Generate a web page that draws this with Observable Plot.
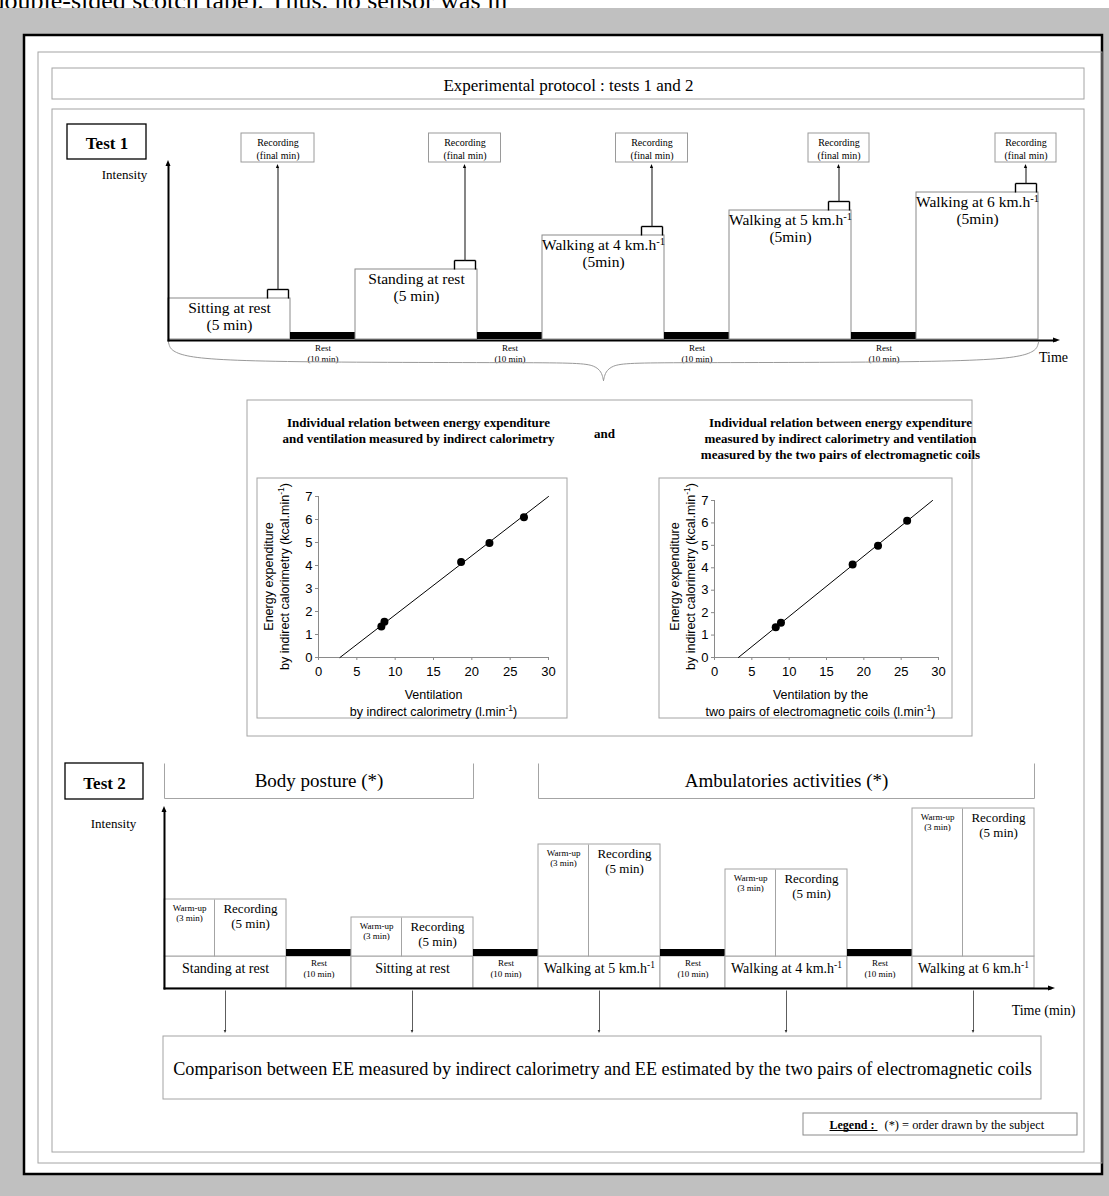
<!DOCTYPE html>
<html><head><meta charset="utf-8">
<script src="https://cdn.jsdelivr.net/npm/d3@7"></script>
<script src="https://cdn.jsdelivr.net/npm/@observablehq/plot@0.6"></script>
<style>
html,body{margin:0;padding:0;overflow:hidden;background:#fff;}
#wrap{position:relative;width:1109px;height:1196px;overflow:hidden;}
#wrap svg{position:absolute;max-width:none;}
</style></head><body><div id="wrap"></div>
<script>
// ---------------- DATA ----------------
const headLine = "double-sided scotch tape). Thus, no sensor was in";
const protocolTitle = "Experimental protocol : tests 1 and 2";
const testLabels = ["Test 1", "Test 2"];
const intensityLabel = "Intensity";
const test1Labels = ["Sitting at rest\n(5 min)", "Standing at rest\n(5 min)", "Walking at 4 km.h^{-1}\n(5min)", "Walking at 5 km.h^{-1}\n(5min)", "Walking at 6 km.h^{-1}\n(5min)"];
const test1Intensity = [41, 70, 104, 129, 147];          // schematic intensity (arbitrary units)
const restLabel = "Rest\n(10 min)";
const recordingFinal = "Recording\n(final min)";
const timeLabel1 = "Time";
const timeLabel2 = "Time (min)";
const test2Labels = ["Standing at rest", "Sitting at rest", "Walking at 5 km.h^{-1}", "Walking at 4 km.h^{-1}", "Walking at 6 km.h^{-1}"];
const test2Intensity = [57, 39, 112, 87, 148];           // schematic intensity (arbitrary units)
const warmupLabel = "Warm-up\n(3 min)";
const recordLabel = "Recording\n(5 min)";
const groupLabels = ["Body posture (*)", "Ambulatories activities (*)"];
const relTitle1 = "Individual relation between energy expenditure\nand ventilation measured by indirect calorimetry";
const relAnd = "and";
const relTitle2 = "Individual relation between energy expenditure\nmeasured by indirect calorimetry and ventilation\nmeasured by the two pairs of electromagnetic coils";
const yLabelLines = ["Energy expenditure", "by indirect calorimetry (kcal.min^{-1})"];
const xLabel1Lines = ["Ventilation", "by indirect calorimetry (l.min^{-1})"];
const xLabel2Lines = ["Ventilation by the", "two pairs of electromagnetic coils (l.min^{-1})"];
const comparisonText = "Comparison between EE measured by indirect calorimetry and EE estimated by the two pairs of electromagnetic coils";
const legendKey = "Legend :";
const legendText = "(*) = order drawn by the subject";
// scatter data
const vent1 = [8.2, 8.6, 18.6, 22.3, 26.8];
const ee1 = [1.35, 1.55, 4.15, 4.98, 6.1];
const fit1Vent = [2.8, 30];
const fit1EE = [0, 7];
const vent2 = [8.2, 8.9, 18.5, 21.9, 25.8];
const ee2 = [1.35, 1.55, 4.15, 4.98, 6.1];
const fit2Vent = [3.2, 29.2];
const fit2EE = [0, 7];
const ventTicks = [0, 5, 10, 15, 20, 25, 30];
const eeTicks = [0, 1, 2, 3, 4, 5, 6, 7];

// ---------------- LAYOUT ----------------
const W = 1109, H = 1196;
const SERIF = "'Liberation Serif', 'Times New Roman', serif";
const SANS = "'Liberation Sans', Arial, sans-serif";
const G = "#a4a4a4";
const L = {
  grayTop: 8,
  outer: [24, 35, 1102, 1174],
  inner: [38, 52, 1102, 1163],
  titleBox: [52, 68, 1084, 99],
  section: [52, 109, 1084, 1152],
  t1: {x0: 168, base: 339, act: 122, rest: 65, restH: 7, axisTop: 160, axisEnd: 1060,
       label: [67, 124, 146, 159], intensity: [124, 174], recY: [133, 162], recW: [73, 72, 72, 61, 61],
       brW: 21, brH: 9, time: [1053, 356]},
  sc: {box: [247, 400, 972, 736], titleL: [418, 429], and: [604, 433], titleR: [840, 437],
       p1: {box: [257, 478, 567, 718], m: [18, 19, 61, 61], ylab: [268, 284], xlab: 433},
       p2: {box: [659, 478, 952, 718], m: [22, 14, 61, 55], ylab: [674, 690], xlab: 820},
       ylabY: 576, xlabY: [694, 711]},
  t2: {x0: 164, rowTop: 956, base: 988, act: 122, rest: 65, restH: 7, warm: 50, axisTop: 806, axisEnd: 1055,
       label: [65, 763, 143, 799], groupY: [763, 798], intensity: [113, 823], time: [1043, 1009], arrowEnd: 1033},
  comp: [163, 1036, 1041, 1099],
  legend: [803, 1113, 1077, 1135]
};

// ---------------- HELPERS ----------------
const marks = [];
const box = (b, o = {}) => marks.push(Plot.rect([{x1: b[0], y1: b[1], x2: b[2], y2: b[3]}],
  {x1: "x1", x2: "x2", y1: "y1", y2: "y2", fill: o.fill ?? "none", stroke: o.stroke ?? "none", strokeWidth: o.sw ?? 1}));
const seg = (x1, y1, x2, y2, o = {}) => marks.push(Plot.link([{x1, y1, x2, y2}],
  {x1: "x1", y1: "y1", x2: "x2", y2: "y2", stroke: o.stroke ?? "#000", strokeWidth: o.sw ?? 1}));
const txt = (x, y, t, o = {}) => marks.push(Plot.text([{x, y, t}], {x: "x", y: "y", text: "t",
  fontSize: o.size ?? 12, fontWeight: o.weight ?? "normal", fontFamily: o.font ?? SERIF,
  textAnchor: o.anchor ?? "middle", lineAnchor: o.la ?? "middle", lineHeight: o.lh ?? 1.15,
  fill: o.fill ?? "#000", rotate: o.rotate ?? 0}));
const head = (x, y, dir, len, half, fill = "#000") => {
  if (dir === "right") marks.push(Plot.areaY([{x: x - len, a: y - half, b: y + half}, {x, a: y, b: y}], {x: "x", y1: "a", y2: "b", fill}));
  if (dir === "up") marks.push(Plot.areaX([{y, a: x, b: x}, {y: y + len, a: x - half, b: x + half}], {y: "y", x1: "a", x2: "b", fill}));
  if (dir === "down") marks.push(Plot.areaX([{y: y - len, a: x - half, b: x + half}, {y, a: x, b: x}], {y: "y", x1: "a", x2: "b", fill}));
};
function slots(x0, act, rest, n) {
  const out = []; let x = x0;
  for (let i = 0; i < n; i++) {
    out.push({kind: "act", i, x1: x, x2: x + act}); x += act;
    if (i < n - 1) { out.push({kind: "rest", x1: x, x2: x + rest}); x += rest; }
  }
  return out;
}

// ---------------- FRAME ----------------
txt(-9, 8, headLine, {size: 26, anchor: "start", la: "bottom"});
box([0, L.grayTop, W, H], {fill: "#c0c0c0"});
box(L.outer, {fill: "#fff", stroke: "#000", sw: 2.5});
box(L.inner, {stroke: G});
box(L.titleBox, {stroke: G});
txt((L.titleBox[0] + L.titleBox[2]) / 2, (L.titleBox[1] + L.titleBox[3]) / 2 + 1, protocolTitle, {size: 17});
box(L.section, {stroke: G});

// ---------------- TEST 1 ----------------
{
  const T = L.t1;
  box(T.label, {fill: "#fff", stroke: "#000", sw: 1.3});
  txt((T.label[0] + T.label[2]) / 2, (T.label[1] + T.label[3]) / 2 + 1, testLabels[0], {size: 17, weight: "bold"});
  txt(T.intensity[0], T.intensity[1], intensityLabel, {size: 13});
  const S = slots(T.x0, T.act, T.rest, test1Labels.length);
  S.forEach(s => {
    if (s.kind === "act") {
      const top = T.base - test1Intensity[s.i];
      box([s.x1, top, s.x2, T.base], {fill: "#fff", stroke: "#8a8a8a"});
      txt((s.x1 + s.x2) / 2, top + 3, test1Labels[s.i], {size: 15.5, la: "top", lh: 1.08});
      // bracket for final minute
      const bx2 = s.x2 - 2, bx1 = bx2 - T.brW, by = top - T.brH, ax = (bx1 + bx2) / 2;
      seg(bx1, top, bx1, by, {sw: 1.4}); seg(bx1, by, bx2, by, {sw: 1.4}); seg(bx2, by, bx2, top, {sw: 1.4});
      seg(ax, by, ax, T.recY[1] + 5, {sw: 1.1, stroke: "#222"});
      head(ax, T.recY[1] + 2, "up", 4, 1.6);
      const w = T.recW[s.i];
      box([ax - w / 2, T.recY[0], ax + w / 2, T.recY[1]], {fill: "#fff", stroke: "#9a9a9a"});
      txt(ax, (T.recY[0] + T.recY[1]) / 2, recordingFinal, {size: 10, lh: 1.3});
    } else {
      box([s.x1, T.base - T.restH, s.x2, T.base], {fill: "#000"});
      txt((s.x1 + s.x2) / 2, T.base + 13.5, restLabel, {size: 9, lh: 1.2});
    }
  });
  // axes
  seg(T.x0, T.base + 2, T.x0, T.axisTop + 4, {sw: 2});
  head(T.x0, T.axisTop, "up", 6, 2.5);
  seg(T.x0 - 1, T.base + 1, T.axisEnd - 4, T.base + 1, {sw: 2});
  head(T.axisEnd, T.base + 1, "right", 7, 2.5);
  txt(T.time[0], T.time[1], timeLabel1, {size: 14});
  // brace
  const xL = T.x0, xR = S[S.length - 1].x2, xm = (xL + xR) / 2;
  const half = [[0, 342], [4, 356], [80, 362], [xm - xL - 45, 362], [xm - xL - 4, 363], [xm - xL, 380]];
  marks.push(Plot.line(half.map(([dx, y]) => ({x: xL + dx, y})), {x: "x", y: "y", curve: "basis", stroke: "#999", strokeWidth: 1}));
  marks.push(Plot.line(half.map(([dx, y]) => ({x: xR - dx, y})), {x: "x", y: "y", curve: "basis", stroke: "#999", strokeWidth: 1}));
}

// ---------------- RELATION PANEL ----------------
{
  const C = L.sc;
  box(C.box, {stroke: G});
  txt(C.titleL[0], C.titleL[1], relTitle1, {size: 13, weight: "bold", lh: 1.23});
  txt(C.and[0], C.and[1], relAnd, {size: 13, weight: "bold"});
  txt(C.titleR[0], C.titleR[1], relTitle2, {size: 13, weight: "bold", lh: 1.23});
  [C.p1, C.p2].forEach((p, k) => {
    box(p.box, {stroke: G});
    yLabelLines.forEach((t, j) => txt(p.ylab[j], C.ylabY, t, {size: 12.5, font: SANS, rotate: -90}));
    (k === 0 ? xLabel1Lines : xLabel2Lines).forEach((t, j) => txt(p.xlab, C.xlabY[j], t, {size: 12.5, font: SANS}));
  });
}

// ---------------- TEST 2 ----------------
{
  const T = L.t2;
  box(T.label, {fill: "#fff", stroke: "#000", sw: 1.3});
  txt((T.label[0] + T.label[2]) / 2, (T.label[1] + T.label[3]) / 2 + 1, testLabels[1], {size: 17, weight: "bold"});
  txt(T.intensity[0], T.intensity[1], intensityLabel, {size: 13});
  const S = slots(T.x0, T.act, T.rest, test2Labels.length);
  const acts = S.filter(s => s.kind === "act");
  // group boxes (open top)
  [[acts[0].x1, acts[1].x2], [acts[2].x1, acts[4].x2]].forEach(([a, b], g) => {
    seg(a, T.groupY[0], a, T.groupY[1], {stroke: G}); seg(a, T.groupY[1], b, T.groupY[1], {stroke: G});
    seg(b, T.groupY[0], b, T.groupY[1], {stroke: G});
    txt((a + b) / 2, T.groupY[0] + 16, groupLabels[g], {size: 19});
  });
  S.forEach(s => {
    box([s.x1, T.rowTop, s.x2, T.base], {fill: "#fff", stroke: G});
    const cx = (s.x1 + s.x2) / 2;
    if (s.kind === "act") {
      const top = T.rowTop - test2Intensity[s.i];
      box([s.x1, top, s.x2, T.rowTop], {fill: "#fff", stroke: G});
      seg(s.x1 + T.warm, top, s.x1 + T.warm, T.rowTop, {stroke: G});
      txt(s.x1 + T.warm / 2, top + 13, warmupLabel, {size: 9, lh: 1.15});
      txt((s.x1 + T.warm + s.x2) / 2, top + 16, recordLabel, {size: 13, lh: 1.15});
      txt(cx, T.rowTop + 11, test2Labels[s.i], {size: 14});
      seg(cx, T.base + 2, cx, T.arrowEnd - 2, {sw: 0.8, stroke: "#333"});
      head(cx, T.arrowEnd, "down", 3, 1.3, "#333");
    } else {
      box([s.x1, T.rowTop - T.restH, s.x2, T.rowTop], {fill: "#000"});
      txt(cx, T.rowTop + 11.5, restLabel, {size: 9, lh: 1.2});
    }
  });
  seg(T.x0, T.base + 1, T.x0, T.axisTop + 4, {sw: 2});
  head(T.x0, T.axisTop, "up", 6, 2.5);
  seg(T.x0 - 1, T.base, T.axisEnd - 4, T.base, {sw: 2});
  head(T.axisEnd, T.base, "right", 7, 2.5);
  txt(T.time[0], T.time[1], timeLabel2, {size: 14});
}

// ---------------- COMPARISON & LEGEND ----------------
box(L.comp, {fill: "#fff", stroke: G});
txt((L.comp[0] + L.comp[2]) / 2, (L.comp[1] + L.comp[3]) / 2, comparisonText, {size: 18.2});
box(L.legend, {fill: "#fff", stroke: "#8a8a8a"});
txt(829, (L.legend[1] + L.legend[3]) / 2, legendKey, {size: 12, weight: "bold", anchor: "start"});
seg(829, 1130, 877, 1130, {sw: 1});
txt(884, (L.legend[1] + L.legend[3]) / 2, legendText, {size: 12.4, anchor: "start"});

// ---------------- RENDER ----------------
function supify(svg) {
  const ns = "http://www.w3.org/2000/svg";
  svg.querySelectorAll("text, tspan").forEach(el => {
    if (el.querySelector("tspan")) return;
    const t = el.textContent;
    if (!t.includes("^{")) return;
    const parts = t.split(/\^\{([^}]*)\}/);
    el.textContent = "";
    parts.forEach((p, i) => {
      if (!p) return;
      const ts = document.createElementNS(ns, "tspan");
      ts.textContent = p;
      if (i % 2 === 1) { ts.setAttribute("baseline-shift", "super"); ts.setAttribute("font-size", "68%"); }
      el.appendChild(ts);
    });
  });
}

const wrap = document.getElementById("wrap");
const canvas = Plot.plot({
  width: W, height: H, margin: 0,
  x: {domain: [0, W], range: [0, W], axis: null},
  y: {domain: [0, H], range: [0, H], axis: null},
  style: {fontFamily: SERIF, background: "#fff", overflow: "visible"},
  marks
});
canvas.style.left = "0px"; canvas.style.top = "0px";
supify(canvas);
wrap.appendChild(canvas);

function scatter(p, vent, ee, fitV, fitE) {
  const pts = vent.map((v, i) => ({v, e: ee[i]}));
  const fit = fitV.map((v, i) => ({v, e: fitE[i]}));
  const [bx1, by1, bx2, by2] = p.box;
  const [mt, mr, mb, ml] = p.m;
  const svg = Plot.plot({
    width: bx2 - bx1, height: by2 - by1,
    marginTop: mt, marginRight: mr, marginBottom: mb, marginLeft: ml,
    x: {domain: [0, 30]}, y: {domain: [0, 7]},
    style: {fontFamily: SANS, fontSize: "13px", background: "transparent", overflow: "visible"},
    marks: [
      Plot.ruleY([0], {stroke: "#8a8a8a"}),
      Plot.ruleX([0], {stroke: "#8a8a8a"}),
      Plot.axisX(ventTicks, {tickSize: 3, tickPadding: 6, stroke: "#8a8a8a", fill: "#000", label: null, fontSize: 13}),
      Plot.axisY(eeTicks, {tickSize: 3, tickPadding: 3, stroke: "#8a8a8a", fill: "#000", label: null, fontSize: 13}),
      Plot.line(fit, {x: "v", y: "e", stroke: "#000", strokeWidth: 1}),
      Plot.dot(pts, {x: "v", y: "e", r: 4, fill: "#000", stroke: "none"})
    ]
  });
  svg.style.left = bx1 + "px"; svg.style.top = by1 + "px";
  wrap.appendChild(svg);
}
scatter(L.sc.p1, vent1, ee1, fit1Vent, fit1EE);
scatter(L.sc.p2, vent2, ee2, fit2Vent, fit2EE);
</script>
</body></html>
